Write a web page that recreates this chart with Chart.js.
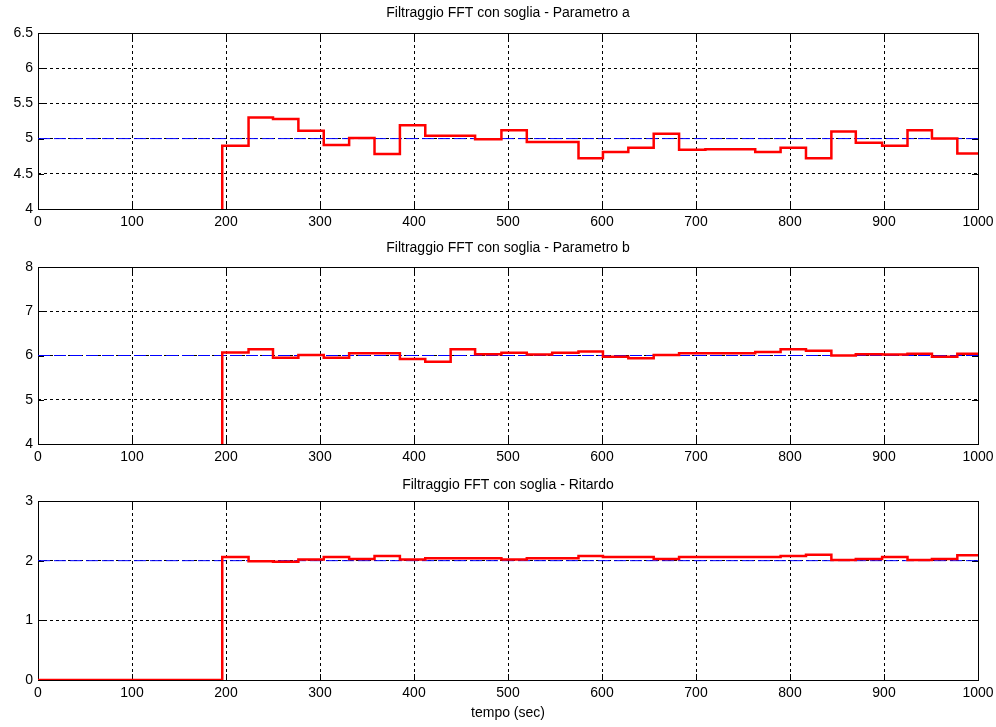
<!DOCTYPE html>
<html>
<head>
<meta charset="utf-8">
<script src="https://cdn.jsdelivr.net/npm/chart.js"></script>
<style>
  body { margin: 0; background: #fff; }
  .panel { position: absolute; left: 0; width: 996px; }
</style>
</head>
<body>
<div class="panel" style="top:0;height:232px"><canvas id="chartA"></canvas></div>
<div class="panel" style="top:232px;height:234px"><canvas id="chartB"></canvas></div>
<div class="panel" style="top:466px;height:261px"><canvas id="chartDelay"></canvas></div>
<script>
// step instants (sec) where the filtered estimate changes
const stepTimes = [0, 196, 224, 250, 277, 304, 331, 358, 385, 412, 439, 465, 493, 520, 547, 575,
    601, 628, 655, 682, 710, 736, 763, 790, 817, 844, 870, 898, 925, 951, 978, 1000];

const paramA = [0, 4.90, 5.30, 5.28, 5.11, 4.91, 5.01, 4.78, 5.19, 5.04, 5.04, 4.99, 5.12, 4.95, 4.95, 4.72,
    4.81, 4.87, 5.07, 4.84, 4.85, 4.85, 4.81, 4.87, 4.72, 5.10, 4.94, 4.90, 5.12, 5.00, 4.79, 4.79];
const paramB = [0, 6.07, 6.14, 5.95, 6.01, 5.95, 6.05, 6.05, 5.92, 5.86, 6.14, 6.03, 6.06, 6.02, 6.06, 6.09,
    5.97, 5.94, 6.01, 6.05, 6.05, 6.05, 6.08, 6.14, 6.11, 6.00, 6.03, 6.02, 6.04, 5.97, 6.04, 6.04];
const delay = [0, 2.06, 1.99, 1.98, 2.02, 2.06, 2.03, 2.08, 2.02, 2.04, 2.04, 2.04, 2.02, 2.04, 2.04, 2.08,
    2.06, 2.06, 2.03, 2.06, 2.06, 2.06, 2.06, 2.08, 2.10, 2.01, 2.03, 2.06, 2.01, 2.03, 2.09, 2.09];

// true values (dashed reference)
const refTimes = [0, 1000];
const refA = [5, 5];
const refB = [6, 6];
const refDelay = [2, 2];

const xTicks = [0, 100, 200, 300, 400, 500, 600, 700, 800, 900, 1000];

Chart.defaults.font.family = "'Liberation Sans', Arial, sans-serif";
Chart.defaults.font.size = 14;
Chart.defaults.color = '#000';

const toPoints = (xs, ys) => xs.map((x, i) => ({ x: x, y: ys[i] }));

// matlab style box + inward tick marks
const boxPlugin = {
    id: 'box',
    beforeDatasetsDraw(chart) {
        const { ctx, chartArea: a, scales } = chart;
        ctx.save();
        ctx.strokeStyle = '#000';
        ctx.lineWidth = 1;
        ctx.setLineDash([]);
        ctx.beginPath();
        scales.x.ticks.forEach(t => {
            const px = Math.round(scales.x.getPixelForValue(t.value)) + 0.5;
            ctx.moveTo(px, a.bottom); ctx.lineTo(px, a.bottom - 6);
            ctx.moveTo(px, a.top); ctx.lineTo(px, a.top + 6);
        });
        scales.y.ticks.forEach(t => {
            const py = Math.round(scales.y.getPixelForValue(t.value)) + 0.5;
            ctx.moveTo(a.left, py); ctx.lineTo(a.left + 6, py);
            ctx.moveTo(a.right, py); ctx.lineTo(a.right - 6, py);
        });
        ctx.stroke();
        ctx.strokeRect(Math.round(a.left) + 0.5, Math.round(a.top) + 0.5,
            Math.round(a.right - a.left), Math.round(a.bottom - a.top));
        ctx.restore();
    }
};

const makeChart = (id, opts) => {
    const ctx = document.getElementById(id).getContext('2d');
    return new Chart(ctx, {
        type: 'line',
        data: {
            datasets: [
                {
                    data: toPoints(stepTimes, opts.values),
                    stepped: true,
                    borderColor: '#ff0000',
                    borderWidth: 2.5,
                    pointRadius: 0,
                    fill: false
                },
                {
                    data: toPoints(refTimes, opts.ref),
                    borderColor: '#0000ff',
                    borderWidth: 1,
                    borderDash: [12, 4],
                    pointRadius: 0,
                    fill: false
                }
            ]
        },
        options: {
            responsive: true,
            maintainAspectRatio: false,
            animation: false,
            layout: { padding: { top: opts.padTop, right: 18, left: 0, bottom: 0 } },
            plugins: {
                legend: { display: false },
                tooltip: { enabled: false },
                title: {
                    display: true,
                    text: opts.title,
                    fullSize: false,
                    color: '#000',
                    font: { size: 14, weight: 'normal' },
                    padding: { top: 0, bottom: opts.titleGap }
                }
            },
            scales: {
                x: {
                    type: 'linear',
                    min: 0,
                    max: 1000,
                    afterBuildTicks: s => { s.ticks = xTicks.map(v => ({ value: v })); },
                    afterFit: s => { s.height = opts.xHeight; s.paddingLeft = 0; s.paddingRight = 0; },
                    ticks: { padding: 5, color: '#000', callback: v => String(v) },
                    grid: { color: '#000', lineWidth: 1, drawTicks: false },
                    border: { display: false, dash: [3, 3] },
                    title: opts.xTitle ? {
                        display: true,
                        text: opts.xTitle,
                        color: '#000',
                        font: { size: 14 },
                        padding: { top: 0, bottom: 5 }
                    } : { display: false }
                },
                y: {
                    min: opts.yTicks[0],
                    max: opts.yTicks[opts.yTicks.length - 1],
                    afterBuildTicks: s => { s.ticks = opts.yTicks.map(v => ({ value: v })); },
                    afterFit: s => { s.width = 38; s.paddingTop = 0; s.paddingBottom = 0; },
                    ticks: { padding: 5, color: '#000', callback: v => String(v) },
                    grid: { color: '#000', lineWidth: 1, drawTicks: false },
                    border: { display: false, dash: [3, 3] }
                }
            }
        },
        plugins: [boxPlugin]
    });
};

makeChart('chartA', {
    title: 'Filtraggio FFT con soglia - Parametro a',
    values: paramA, ref: refA,
    yTicks: [4, 4.5, 5, 5.5, 6, 6.5],
    padTop: 5, titleGap: 11.2, xHeight: 23
});

makeChart('chartB', {
    title: 'Filtraggio FFT con soglia - Parametro b',
    values: paramB, ref: refB,
    yTicks: [4, 5, 6, 7, 8],
    padTop: 7.6, titleGap: 10.6, xHeight: 22
});

makeChart('chartDelay', {
    title: 'Filtraggio FFT con soglia - Ritardo',
    values: delay, ref: refDelay,
    yTicks: [0, 1, 2, 3],
    padTop: 10.6, titleGap: 7.6, xHeight: 47,
    xTitle: 'tempo (sec)'
});
</script>
</body>
</html>
